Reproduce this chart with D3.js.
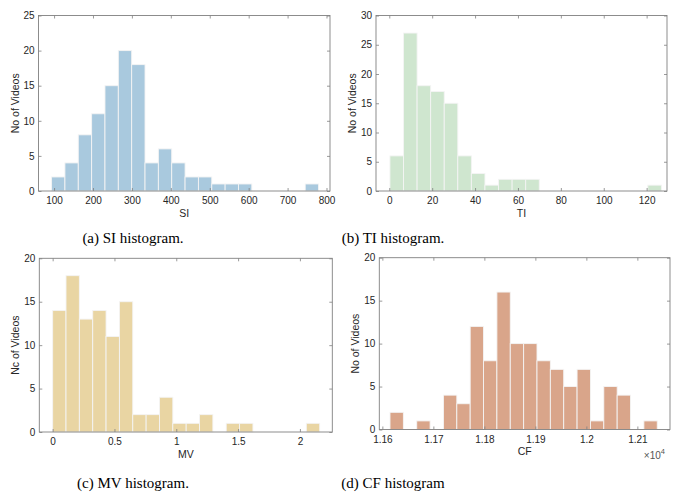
<!DOCTYPE html>
<html>
<head>
<meta charset="utf-8">
<script src="https://cdn.jsdelivr.net/npm/d3@7"></script>
<style>
  html, body { margin: 0; padding: 0; background: #ffffff; }
  svg { display: block; }
</style>
</head>
<body>
<svg id="chart" width="681" height="496"></svg>
<script>
// ---------------- DATA ----------------
const siEdges = [93.6, 127.9, 162.2, 196.5, 230.8, 265.1, 299.4, 333.7, 368.0, 402.3, 436.6,
                 470.9, 505.2, 539.5, 573.8, 608.1, 642.4, 676.7, 711.0, 745.3, 779.6];
const siCounts = [2, 4, 8, 11, 15, 20, 18, 4, 6, 4, 2, 2, 1, 1, 1, 0, 0, 0, 0, 1];
const siTicks = [100, 200, 300, 400, 500, 600, 700, 800];
const siYTicks = [0, 5, 10, 15, 20, 25];

const tiEdges = [0.3, 6.63, 12.96, 19.29, 25.62, 31.95, 38.28, 44.61, 50.94, 57.27, 63.6,
                 69.93, 76.26, 82.59, 88.92, 95.25, 101.58, 107.91, 114.24, 120.57, 126.9];
const tiCounts = [6, 27, 18, 17, 15, 6, 3, 1, 2, 2, 2, 0, 0, 0, 0, 0, 0, 0, 0, 1];
const tiTicks = [0, 20, 40, 60, 80, 100, 120];
const tiYTicks = [0, 5, 10, 15, 20, 25, 30];

const mvEdges = [0, 0.108, 0.216, 0.324, 0.432, 0.54, 0.648, 0.756, 0.864, 0.972, 1.08,
                 1.188, 1.296, 1.404, 1.512, 1.62, 1.728, 1.836, 1.944, 2.052, 2.16];
const mvCounts = [14, 18, 13, 14, 11, 15, 2, 2, 4, 1, 1, 2, 0, 1, 1, 0, 0, 0, 0, 1];
const mvTicks = [0, 0.5, 1, 1.5, 2];
const mvYTicks = [0, 5, 10, 15, 20];

const cfEdges = [11615, 11641.2, 11667.4, 11693.6, 11719.8, 11746, 11772.2, 11798.4, 11824.6,
                 11850.8, 11877, 11903.2, 11929.4, 11955.6, 11981.8, 12008, 12034.2, 12060.4,
                 12086.6, 12112.8, 12139];
const cfCounts = [2, 0, 1, 0, 4, 3, 12, 8, 16, 10, 10, 8, 7, 5, 7, 1, 5, 4, 0, 1];
const cfTicks = [11600, 11700, 11800, 11900, 12000, 12100];
const cfYTicks = [0, 5, 10, 15, 20];

const xLabels = ["SI", "TI", "MV", "CF"];
const yLabels = ["No of Videos", "No of Videos", "Nc of Videos", "No of Videos"];
const captions = ["(a) SI histogram.", "(b) TI histogram.", "(c) MV histogram.", "(d) CF histogram"];

// ---------------- LAYOUT ----------------
const panels = [
  { edges: siEdges, counts: siCounts, ticks: siTicks, yTicks: siYTicks, xDomain: [60, 809], yMax: 25,
    px: [38.5, 330], py: [15.5, 191], color: "#a9c9de", fmt: d => d, capX: 133, capY: 243 },
  { edges: tiEdges, counts: tiCounts, ticks: tiTicks, yTicks: tiYTicks, xDomain: [-6.2, 129.5], yMax: 30,
    px: [376, 667], py: [15.5, 191], color: "#cfe6cf", fmt: d => d, capX: 393, capY: 243 },
  { edges: mvEdges, counts: mvCounts, ticks: mvTicks, yTicks: mvYTicks, xDomain: [-0.108, 2.262], yMax: 20,
    px: [39.3, 332.3], py: [258.3, 432], color: "#e9d5a3", fmt: d => d, capX: 133, capY: 488 },
  { edges: cfEdges, counts: cfCounts, ticks: cfTicks, yTicks: cfYTicks, xDomain: [11594, 12164], yMax: 20,
    px: [379.3, 670], py: [257.7, 429.5], color: "#d9a58a", fmt: d => String(+(d / 10000).toFixed(2)), capX: 393, capY: 488 }
];

const svg = d3.select("#chart");
const axisColor = "#808080";
const textColor = "#262626";
const font = "'Liberation Sans', Arial, Helvetica, sans-serif";

panels.forEach((p, i) => {
  const x = d3.scaleLinear().domain(p.xDomain).range(p.px);
  const y = d3.scaleLinear().domain([0, p.yMax]).range([p.py[1], p.py[0]]);
  const g = svg.append("g");

  // bars
  const bins = p.counts.map((c, k) => ({ x0: p.edges[k], x1: p.edges[k + 1], c: c }));
  g.selectAll("rect.bar").data(bins.filter(b => b.c > 0)).join("rect")
    .attr("class", "bar")
    .attr("x", b => x(b.x0))
    .attr("width", b => x(b.x1) - x(b.x0))
    .attr("y", b => y(b.c))
    .attr("height", b => y(0) - y(b.c))
    .attr("fill", p.color)
    .attr("stroke", "#f4f4f4")
    .attr("stroke-width", 0.9);

  // axes
  const styleAxis = (sel, showText) => {
    sel.select(".domain").remove();
    sel.selectAll(".tick line").attr("stroke", axisColor).attr("stroke-width", 0.8);
    sel.selectAll(".tick text")
      .attr("fill", textColor)
      .style("font-family", font)
      .style("font-size", "10px");
    if (!showText) sel.selectAll(".tick text").remove();
  };

  g.append("g").attr("transform", `translate(0,${p.py[1]})`)
    .call(d3.axisBottom(x).tickValues(p.ticks).tickFormat(p.fmt).tickSizeInner(-3).tickSizeOuter(0).tickPadding(6))
    .call(s => styleAxis(s, true));
  g.append("g").attr("transform", `translate(0,${p.py[0]})`)
    .call(d3.axisTop(x).tickValues(p.ticks).tickSizeInner(-3).tickSizeOuter(0))
    .call(s => styleAxis(s, false));
  g.append("g").attr("transform", `translate(${p.px[0]},0)`)
    .call(d3.axisLeft(y).tickValues(p.yTicks).tickSizeInner(-3).tickSizeOuter(0).tickPadding(4))
    .call(s => styleAxis(s, true));
  g.append("g").attr("transform", `translate(${p.px[1]},0)`)
    .call(d3.axisRight(y).tickValues(p.yTicks).tickSizeInner(-3).tickSizeOuter(0))
    .call(s => styleAxis(s, false));

  // box
  g.append("rect")
    .attr("x", p.px[0]).attr("y", p.py[0])
    .attr("width", p.px[1] - p.px[0]).attr("height", p.py[1] - p.py[0])
    .attr("fill", "none").attr("stroke", axisColor).attr("stroke-width", 0.9);

  // axis labels
  g.append("text")
    .attr("x", (p.px[0] + p.px[1]) / 2).attr("y", p.py[1] + 25.5)
    .attr("text-anchor", "middle")
    .attr("fill", textColor).style("font-family", font).style("font-size", "10.5px")
    .text(xLabels[i]);
  g.append("text")
    .attr("transform", `translate(${p.px[0] - 20},${(p.py[0] + p.py[1]) / 2}) rotate(-90)`)
    .attr("text-anchor", "middle")
    .attr("fill", textColor).style("font-family", font).style("font-size", "10.5px")
    .text(yLabels[i]);

  // caption
  svg.append("text")
    .attr("x", p.capX).attr("y", p.capY)
    .attr("text-anchor", "middle")
    .attr("fill", "#000")
    .style("font-family", "'Liberation Serif', 'Times New Roman', serif")
    .style("font-size", "15px")
    .text(captions[i]);

  if (i === 3) {
    const t = g.append("text")
      .attr("x", p.px[1] - 5).attr("y", p.py[1] + 29)
      .attr("text-anchor", "end")
      .attr("fill", "#555").style("font-family", font).style("font-size", "10px");
    t.append("tspan").text("\u00d710");
    t.append("tspan").attr("dy", -5).style("font-size", "7.5px").text("4");
  }
});
</script>
</body>
</html>
